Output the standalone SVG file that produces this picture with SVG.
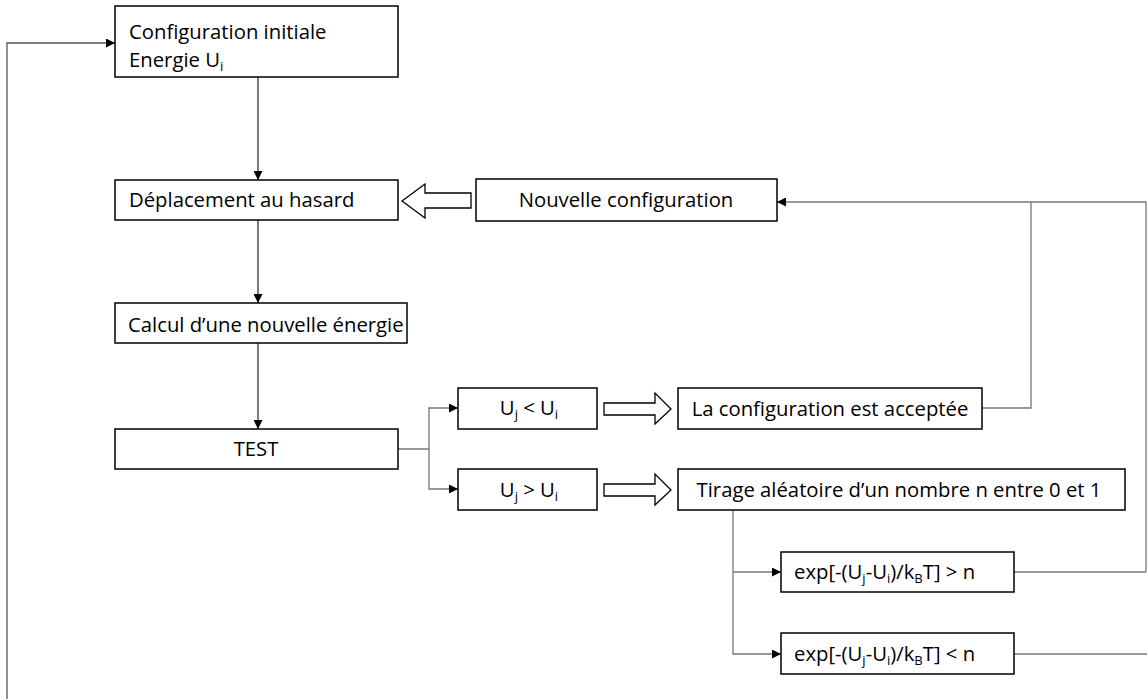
<svg xmlns="http://www.w3.org/2000/svg" width="1147" height="699" viewBox="0 0 1147 699">
<defs>
<style>
.box{fill:#fff;stroke:#000;stroke-width:1.5}
.t{font-family:"Open Sans","Liberation Sans",sans-serif;font-size:20.3px;fill:#000}
.c{text-anchor:middle}
.sub{font-size:13px}
.ln{fill:none;stroke:#222;stroke-width:1.2}
.lp{fill:none;stroke:#555;stroke-width:1.3}
.lg{fill:none;stroke:#777;stroke-width:1.3}
.blk{fill:#fff;stroke:#000;stroke-width:1.3}
</style>
<marker id="ah" viewBox="0 0 10 10" refX="10" refY="5" markerWidth="9" markerHeight="9" markerUnits="userSpaceOnUse" orient="auto">
<path d="M0,0 L10,5 L0,10 z" fill="#000"/>
</marker>
</defs>
<rect width="1147" height="699" fill="#fff"/>
<g id="connectors">
<path class="ln" d="M258,77 V180" marker-end="url(#ah)"/>
<path class="ln" d="M258,220 V303" marker-end="url(#ah)"/>
<path class="ln" d="M258,343 V429" marker-end="url(#ah)"/>
<path class="lp" d="M7,699 V43 H115" marker-end="url(#ah)"/>
<path class="lg" d="M398,449 H429 V408 H458" marker-end="url(#ah)"/>
<path class="lg" d="M429,449 V489 H458" marker-end="url(#ah)"/>
<path class="lg" d="M982,408 H1031 V202"/>
<path class="lg" d="M1146,572 V202 H777" marker-end="url(#ah)"/>
<path class="lg" d="M733,510 V654 H781" marker-end="url(#ah)"/>
<path class="lg" d="M733,572 H781" marker-end="url(#ah)"/>
<path class="lg" d="M1014,572 H1146"/>
<path class="lg" d="M1014,654 H1147"/>
<path class="blk" d="M471,193 H425 V184 L402,201 L425,218 V208 H471 z"/>
<path class="blk" d="M604,403 H655 V393 L671,409 L655,424 V415 H604 z"/>
<path class="blk" d="M604,484 H655 V474 L671,490 L655,505 V496 H604 z"/>
</g>
<g id="n-init">
<rect class="box" x="115" y="6" width="283" height="71"/>
<text class="t" x="129" y="39">Configuration initiale</text>
<text class="t" x="129" y="67">Energie U<tspan class="sub" dy="4">i</tspan></text>
</g>
<g id="n-depl">
<rect class="box" x="115" y="180" width="283" height="40"/>
<text class="t" x="129" y="207">Déplacement au hasard</text>
</g>
<g id="n-nouv">
<rect class="box" x="476" y="179" width="301" height="42"/>
<text class="t c" x="626" y="207">Nouvelle configuration</text>
</g>
<g id="n-calc">
<rect class="box" x="115" y="303" width="292" height="40"/>
<text class="t" x="128" y="332">Calcul d’une nouvelle énergie</text>
</g>
<g id="n-test">
<rect class="box" x="115" y="429" width="283" height="40"/>
<text class="t c" x="256" y="456">TEST</text>
</g>
<g id="n-lt">
<rect class="box" x="458" y="388" width="139" height="41"/>
<text class="t c" x="529" y="415">U<tspan class="sub" dy="4">j</tspan><tspan dy="-4"> &lt; U</tspan><tspan class="sub" dy="4">i</tspan></text>
</g>
<g id="n-gt">
<rect class="box" x="458" y="469" width="139" height="41"/>
<text class="t c" x="529" y="497">U<tspan class="sub" dy="4">j</tspan><tspan dy="-4"> &gt; U</tspan><tspan class="sub" dy="4">i</tspan></text>
</g>
<g id="n-acc">
<rect class="box" x="678" y="388" width="304" height="41"/>
<text class="t c" x="830" y="416">La configuration est acceptée</text>
</g>
<g id="n-tir">
<rect class="box" x="678" y="469" width="447" height="41"/>
<text class="t c" x="899" y="497">Tirage aléatoire d’un nombre n entre 0 et 1</text>
</g>
<g id="n-exp1">
<rect class="box" x="781" y="552" width="233" height="40"/>
<text class="t" x="794" y="579">exp[-(U<tspan class="sub" dy="4">j</tspan><tspan dy="-4">-U</tspan><tspan class="sub" dy="4">i</tspan><tspan dy="-4">)/k</tspan><tspan class="sub" dy="4">B</tspan><tspan dy="-4">T] &gt; n</tspan></text>
</g>
<g id="n-exp2">
<rect class="box" x="781" y="633" width="233" height="41"/>
<text class="t" x="794" y="661">exp[-(U<tspan class="sub" dy="4">j</tspan><tspan dy="-4">-U</tspan><tspan class="sub" dy="4">i</tspan><tspan dy="-4">)/k</tspan><tspan class="sub" dy="4">B</tspan><tspan dy="-4">T] &lt; n</tspan></text>
</g>
</svg>
